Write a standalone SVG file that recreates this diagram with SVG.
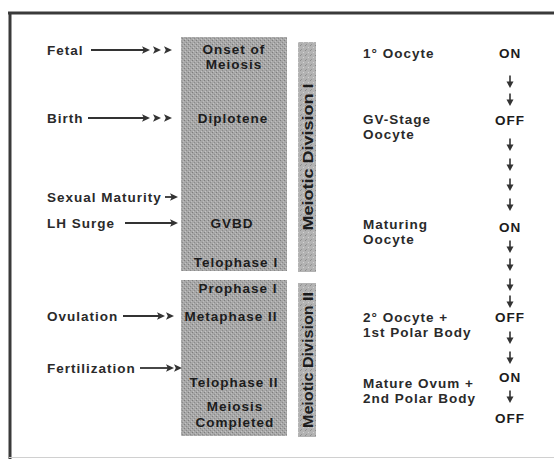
<svg xmlns="http://www.w3.org/2000/svg" width="554" height="459" viewBox="0 0 554 459">
<style>
text{font-family:"Liberation Sans",Arial,sans-serif;font-weight:bold;font-size:13.5px;letter-spacing:1px;fill:#2a2a2a}
.c{text-anchor:middle;fill:#1c1c1c}
.v{letter-spacing:0}
.ln{stroke:#333;stroke-width:1.8;fill:none}
.hd{fill:#333}
.frame{stroke:#3a3a3a;stroke-width:3;fill:none}
</style>
<defs>
<pattern id="tex" width="4" height="4" patternUnits="userSpaceOnUse">
<rect width="4" height="4" fill="#a7a7a7"/>
<rect x="0" y="0" width="1" height="1" fill="#7d7d7d"/>
<rect x="2" y="2" width="1" height="1" fill="#8a8a8a"/>
<rect x="1" y="3" width="1" height="1" fill="#c4c4c4"/>
<rect x="3" y="1" width="1" height="1" fill="#bdbdbd"/>
</pattern>
<pattern id="tex2" width="5" height="5" patternUnits="userSpaceOnUse">
<rect width="5" height="5" fill="#b3b3b3"/>
<rect x="0" y="0" width="1" height="1" fill="#8c8c8c"/>
<rect x="3" y="2" width="1" height="1" fill="#d2d2d2"/>
<rect x="1" y="4" width="1" height="1" fill="#939393"/>
</pattern>
<path id="h" d="M0,-3.8 L8,0 L0,3.8 L1.8,0 Z"/>
<g id="d"><line x1="0" y1="-6.5" x2="0" y2="1" stroke="#333" stroke-width="1.6"/><path d="M-3.5,-0.5 L3.5,-0.5 L0,6 Z" fill="#333"/></g>
</defs>
<rect width="554" height="459" fill="#fff"/>
<g id="frame">
<line class="frame" x1="8" y1="13" x2="554" y2="13"/>
<line class="frame" x1="10" y1="12" x2="10" y2="459"/>
<line x1="9" y1="457.5" x2="554" y2="457.5" stroke="#d0d0d0" stroke-width="1"/>
</g>
<g id="column-div1">
<rect x="181" y="37" width="106" height="234" fill="url(#tex)"/>
<text class="c" x="234" y="53.5">Onset of</text>
<text class="c" x="234" y="69">Meiosis</text>
<text class="c" x="233" y="123">Diplotene</text>
<text class="c" x="232" y="228">GVBD</text>
<text class="c" x="236" y="267">Telophase I</text>
</g>
<g id="column-div2">
<rect x="181" y="280" width="106" height="156" fill="url(#tex)"/>
<text class="c" x="238" y="293">Prophase I</text>
<text class="c" x="231" y="321">Metaphase II</text>
<text class="c" x="234" y="387">Telophase II</text>
<text class="c" x="235" y="411">Meiosis</text>
<text class="c" x="235" y="426.5">Completed</text>
</g>
<g id="strip-div1">
<rect x="298" y="42" width="18" height="230" fill="url(#tex2)"/>
<text class="c v" transform="translate(312.5,157) rotate(-90)" textLength="147" lengthAdjust="spacingAndGlyphs" style="font-size:14px">Meiotic Division I</text>
</g>
<g id="strip-div2">
<rect x="298" y="283" width="18" height="154" fill="url(#tex2)"/>
<text class="c v" transform="translate(312.5,360) rotate(-90)" textLength="136" lengthAdjust="spacingAndGlyphs" style="font-size:14px">Meiotic Division II</text>
</g>
<g id="events">
<text x="47" y="55">Fetal</text>
<text x="47" y="123">Birth</text>
<text x="47" y="202">Sexual Maturity</text>
<text x="47" y="228">LH Surge</text>
<text x="47" y="321">Ovulation</text>
<text x="47" y="373">Fertilization</text>
</g>
<g id="connectors">
<line class="ln" x1="91" y1="50" x2="145" y2="50"/>
<use href="#h" class="hd" x="142" y="50"/><use href="#h" class="hd" x="153" y="50"/><use href="#h" class="hd" x="164" y="50"/>
<line class="ln" x1="88" y1="118" x2="145" y2="118"/>
<use href="#h" class="hd" x="142" y="118"/><use href="#h" class="hd" x="153" y="118"/><use href="#h" class="hd" x="164" y="118"/>
<line class="ln" x1="165" y1="197" x2="173" y2="197"/>
<use href="#h" class="hd" x="170" y="197"/>
<line class="ln" x1="125" y1="223" x2="173" y2="223"/>
<use href="#h" class="hd" x="170" y="223"/>
<line class="ln" x1="123" y1="316" x2="160" y2="316"/>
<use href="#h" class="hd" x="157" y="316"/><use href="#h" class="hd" x="166" y="316"/>
<line class="ln" x1="140" y1="368" x2="170" y2="368"/>
<use href="#h" class="hd" x="166" y="368"/><use href="#h" class="hd" x="174" y="368"/>
<use href="#d" x="510" y="82"/><use href="#d" x="510" y="100"/>
<use href="#d" x="510" y="145"/><use href="#d" x="510" y="165"/><use href="#d" x="510" y="185"/><use href="#d" x="510" y="205"/>
<use href="#d" x="510" y="247"/><use href="#d" x="510" y="265"/><use href="#d" x="510" y="285"/><use href="#d" x="510" y="302"/>
<use href="#d" x="510" y="338"/><use href="#d" x="510" y="358"/>
<use href="#d" x="510" y="397"/>
</g>
<g id="cells">
<text x="363" y="58">1° Oocyte</text>
<text x="363" y="123.5">GV-Stage</text>
<text x="363" y="139">Oocyte</text>
<text x="363" y="228.5">Maturing</text>
<text x="363" y="244">Oocyte</text>
<text x="363" y="321.5">2° Oocyte  +</text>
<text x="363" y="337">1st Polar Body</text>
<text x="363" y="387.5">Mature Ovum  +</text>
<text x="363" y="403">2nd Polar Body</text>
</g>
<g id="states">
<text class="c" x="510" y="58">ON</text>
<text class="c" x="510" y="125">OFF</text>
<text class="c" x="510" y="232">ON</text>
<text class="c" x="510" y="322">OFF</text>
<text class="c" x="510" y="382">ON</text>
<text class="c" x="510" y="423">OFF</text>
</g>
</svg>
